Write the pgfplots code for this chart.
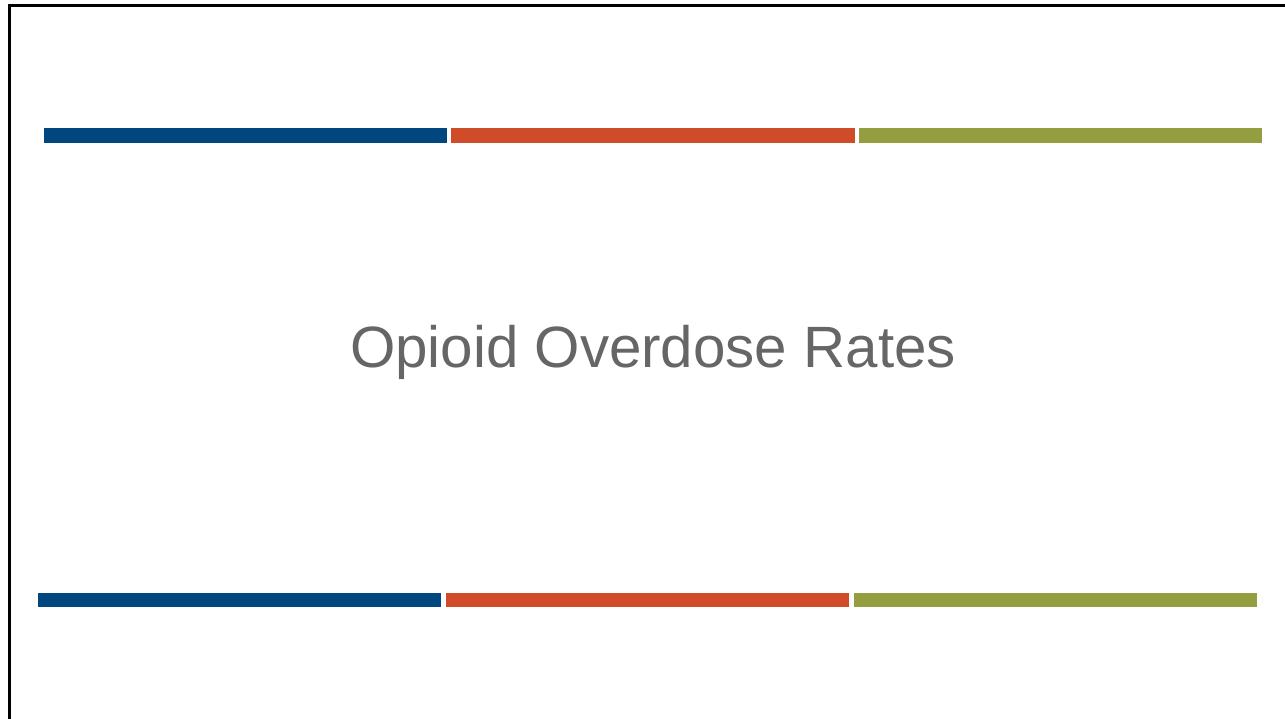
\documentclass[border=0pt]{standalone}
\usepackage{pgfplots}
\pgfplotsset{compat=1.18}
\usepackage{fontspec}
\setmainfont{Liberation Sans}
\definecolor{barblue}{RGB}{0,70,127}
\definecolor{barorange}{RGB}{208,76,40}
\definecolor{bargreen}{RGB}{148,157,64}
\definecolor{titlegray}{RGB}{102,102,102}
\begin{document}
\begin{tikzpicture}
\begin{axis}[
  width=1285bp, height=719bp, scale only axis,
  xmin=0, xmax=1285, ymin=0, ymax=719, y dir=reverse,
  axis lines=none, ticks=none, enlargelimits=false, clip=false,
]
% top row of bars
\addplot[fill=barblue, draw=none] coordinates {(44,128) (447,128) (447,143) (44,143)} -- cycle;
\addplot[fill=barorange, draw=none] coordinates {(451,128) (855,128) (855,143) (451,143)} -- cycle;
\addplot[fill=bargreen, draw=none] coordinates {(859,128) (1262,128) (1262,143) (859,143)} -- cycle;
% bottom row of bars
\addplot[fill=barblue, draw=none] coordinates {(38,593) (441,593) (441,607) (38,607)} -- cycle;
\addplot[fill=barorange, draw=none] coordinates {(446,593) (849,593) (849,607) (446,607)} -- cycle;
\addplot[fill=bargreen, draw=none] coordinates {(854,593) (1257,593) (1257,607) (854,607)} -- cycle;
% frame
\addplot[black, line width=2.5bp] coordinates {(9.5,719) (9.5,5.5) (1285,5.5)};
% title
\node[anchor=base, text=titlegray, font=\fontsize{58.3bp}{70bp}\selectfont, inner sep=0pt] at (axis cs:653,367) {Opioid Overdose Rates};
\end{axis}
\pgfresetboundingbox
\path[use as bounding box] (current axis.south west) rectangle (current axis.north east);
\end{tikzpicture}
\end{document}
